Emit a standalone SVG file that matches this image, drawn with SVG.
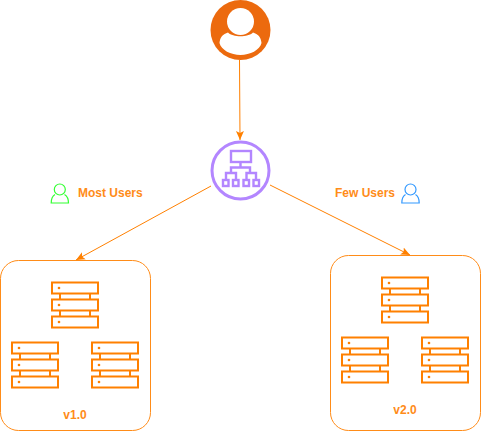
<svg xmlns="http://www.w3.org/2000/svg" xmlns:xlink="http://www.w3.org/1999/xlink" width="481" height="431" viewBox="0 0 481 431">
<style>
.box{fill:#fff;stroke:#FF8000;stroke-width:1;opacity:.9}
.srv{fill:none;stroke:#FF8000;stroke-width:2}
.dot{fill:#FF8000}
.edge{fill:none;stroke:#FF8000;stroke-width:1}
.lbl{font-family:"Liberation Sans",Arial,sans-serif;font-size:12px;font-weight:bold;fill:#FF8000;opacity:.9}
.net{fill:none;stroke:#B386FF;stroke-width:2.400}
</style>
<defs>
<marker id="arrow" markerUnits="userSpaceOnUse" markerWidth="12" markerHeight="12" refX="9" refY="5" orient="auto">
<path d="M0 1L9 5L0 9L2 5Z" fill="#FF8000"/>
</marker>
<g id="server">
<rect class="srv" x="0" y="0" width="46" height="11"/>
<rect class="srv" x="0" y="17" width="46" height="11"/>
<rect class="srv" x="0" y="34" width="46" height="11"/>
<path class="srv" d="M8 11v6M38 11v6M8 28v6M38 28v6"/>
<circle class="dot" cx="7" cy="5.500" r="1.300"/>
<circle class="dot" cx="7" cy="22.500" r="1.300"/>
<circle class="dot" cx="7" cy="39.500" r="1.300"/>
</g>
</defs>
<g id="connectors">
<path class="edge" d="M239.500 60L240 140" marker-end="url(#arrow)"/>
<path class="edge" d="M211 186L76 260" marker-end="url(#arrow)"/>
<path class="edge" d="M270 185L410 255" marker-end="url(#arrow)"/>
</g>
<g id="user">
<circle cx="240.500" cy="30" r="30" fill="#EC6A0E"/>
<circle cx="240.500" cy="21.500" r="13.500" fill="#fff"/>
<path d="M228 32.500C233 37.500 248 37.500 253 32.500C258 34 261 37 261.500 43C260 50 250 55 240.500 55C231 55 221 50 219.500 43C220 37 223 34 228 32.500Z" fill="#fff"/>
</g>
<g id="balancer">
<circle cx="240.500" cy="170.500" r="28.500" fill="#fff" stroke="#B386FF" stroke-width="3"/>
<rect class="net" x="231" y="151" width="20" height="11"/>
<path class="net" d="M240.500 162V167.500M231 173V167.500H250V173M226 179V173H236V179M246.500 179V173H256V179"/>
<rect class="net" x="223" y="180" width="5.500" height="6"/>
<rect class="net" x="233" y="180" width="5.500" height="6"/>
<rect class="net" x="243.500" y="180" width="5.500" height="6"/>
<rect class="net" x="253.500" y="180" width="5.500" height="6"/>
</g>
<g id="most-users">
<circle cx="59.800" cy="189.500" r="5.500" fill="none" stroke="#33FF33" stroke-width="1.200"/>
<path d="M55 194.500C52.500 196 51.200 198.500 51.200 203H68.500C68.500 198.500 67 196 64.500 194.500" fill="none" stroke="#33FF33" stroke-width="1.200"/>
<text class="lbl" x="78" y="197">Most Users</text>
</g>
<g id="few-users">
<circle cx="410.500" cy="189.500" r="5.500" fill="none" stroke="#3399FF" stroke-width="1.200"/>
<path d="M405.500 194.500C403 196 401.800 198.500 401.800 203H419.200C419.200 198.500 418 196 415.500 194.500" fill="none" stroke="#3399FF" stroke-width="1.200"/>
<text class="lbl" x="335" y="197">Few Users</text>
</g>
<g id="v1">
<rect class="box" x="0.500" y="260.500" width="150" height="170" rx="18"/>
<use xlink:href="#server" href="#server" x="52" y="282.500"/>
<use xlink:href="#server" href="#server" x="12" y="342.500"/>
<use xlink:href="#server" href="#server" x="92" y="342.500"/>
<text class="lbl" x="75" y="419" text-anchor="middle">v1.0</text>
</g>
<g id="v2">
<rect class="box" x="330.500" y="255.500" width="150" height="175" rx="18"/>
<use xlink:href="#server" href="#server" x="382" y="277.500"/>
<use xlink:href="#server" href="#server" x="342" y="337.500"/>
<use xlink:href="#server" href="#server" x="422" y="337.500"/>
<text class="lbl" x="405" y="414" text-anchor="middle">v2.0</text>
</g>
</svg>
